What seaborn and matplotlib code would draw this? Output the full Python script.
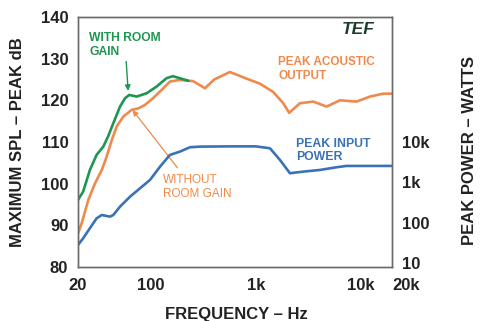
import numpy as np
import pandas as pd
import matplotlib
matplotlib.use("Agg")
import matplotlib.pyplot as plt
import seaborn as sns

# ---- data ----
with_freq = [20, 22.4, 26, 30.1, 34.9, 38.7, 43.5, 50.4, 56.3, 61.8, 72.6, 90.6, 112.6, 140, 161, 188, 227]
with_db = [96.1, 98.1, 103.3, 106.9, 108.9, 111.3, 114.5, 118.5, 120.5, 121.3, 120.9, 121.7, 123.3, 125.3, 125.8, 125.3, 124.7]

out_freq = [20, 21.7, 25.1, 29.1, 33.8, 37.6, 42.1, 46.8, 54.2, 65, 75.9, 87.3, 104, 126, 151, 188, 227,
            252, 327, 400, 566, 817, 1095, 1466, 1828, 2085, 2637, 3534, 4744, 6360, 9186, 12300, 16500, 20000]
out_db = [88.1, 90.5, 96.1, 100.1, 103.3, 106.5, 110.5, 113.7, 116.1, 117.7, 118.1, 118.9, 120.5, 122.5, 124.5, 124.9, 124.7,
          124.6, 122.9, 125.0, 126.8, 125.2, 124.0, 122.0, 119.3, 117.0, 119.3, 119.7, 118.5, 120.0, 119.7, 120.9, 121.6, 121.6]

pow_freq = [20, 22.4, 26, 30.1, 33.8, 40.4, 43.5, 50.4, 62.9, 78.3, 97.5, 121.6, 151, 188, 235, 293, 566, 1000,
            1364, 1700, 2118, 2838, 4096, 5912, 7370, 20000]
pow_watts = [28, 41, 73, 128, 155, 141, 155, 250, 442, 714, 1150, 2450, 4790, 5780, 7430, 7690, 7800, 7800,
             7010, 3600, 1683, 1845, 2030, 2370, 2555, 2555]

x_ticks = [20, 100, 1000, 10000, 20000]
x_tick_labels = ["20", "100", "1k", "10k", "20k"]
y_ticks = [80, 90, 100, 110, 120, 130, 140]
p_ticks = [10, 100, 1000, 10000]
p_tick_labels = ["10", "100", "1k", "10k"]

GREEN = "#1f9552"
ORANGE = "#ef8a4c"
BLUE = "#3b72b6"

sns.set_theme(style="white")
plt.rcParams["font.family"] = ["Liberation Sans", "DejaVu Sans"]

fig = plt.figure(figsize=(4.8, 3.21), dpi=100)
ax = fig.add_axes([78 / 480, 1 - 267 / 321, 314 / 480, 250 / 321])

line_kw = dict(lw=1.9, sort=False, solid_capstyle="round", solid_joinstyle="round")
df_out = pd.DataFrame({"f": out_freq, "db": out_db})
df_with = pd.DataFrame({"f": with_freq, "db": with_db})
sns.lineplot(data=df_out, x="f", y="db", ax=ax, color=ORANGE, **line_kw)
sns.lineplot(data=df_with, x="f", y="db", ax=ax, color=GREEN, **line_kw)

ax.set_xscale("log")
ax.set_xlim(20, 20000)
ax.set_ylim(80, 140)
ax.set_xticks(x_ticks)
ax.set_xticklabels(x_tick_labels)
ax.set_yticks(y_ticks)
ax.set_yticklabels([str(v) for v in y_ticks])
ax.xaxis.set_minor_locator(matplotlib.ticker.NullLocator())
ax.tick_params(axis="both", length=0, labelsize=12, colors="#222222")
ax.tick_params(axis="y", pad=7)
ax.tick_params(axis="x", pad=8)
for lab in ax.get_xticklabels() + ax.get_yticklabels():
    lab.set_fontweight("bold")
ax.get_xticklabels()[-1].set_horizontalalignment("left")
ax.set_xlabel("")
ax.set_ylabel("")
for s in ax.spines.values():
    s.set_color("#6a6a6a")
    s.set_linewidth(1.0)

ax2 = ax.twinx()
df_pow = pd.DataFrame({"f": pow_freq, "w": pow_watts})
sns.lineplot(data=df_pow, x="f", y="w", ax=ax2, color=BLUE, **line_kw)
ax2.set_yscale("log")
ax2.set_ylim(7.96, 1.26e7)
ax2.set_yticks(p_ticks)
ax2.set_yticklabels(p_tick_labels)
ax2.yaxis.set_minor_locator(matplotlib.ticker.NullLocator())
ax2.tick_params(axis="y", length=0, labelsize=12, colors="#222222", pad=7)
for lab in ax2.get_yticklabels():
    lab.set_fontweight("bold")
ax2.set_ylabel("")
ax2.set_xlabel("")
for s in ax2.spines.values():
    s.set_color("#6a6a6a")
    s.set_linewidth(1.0)

# axis titles
fig.text(18 / 480, 1 - 142 / 321, "MAXIMUM SPL – PEAK dB", rotation=90, ha="center", va="center",
         fontsize=12, fontweight="bold", color="#222222")
fig.text(470 / 480, 1 - 150 / 321, "PEAK POWER – WATTS", rotation=90, ha="center", va="center",
         fontsize=12, fontweight="bold", color="#222222")
fig.text(236 / 480, 1 - 314 / 321, "FREQUENCY – Hz", ha="center", va="center",
         fontsize=12, fontweight="bold", color="#222222")

# annotations
ax.text(0.946, 0.982, "TEF", transform=ax.transAxes, ha="right", va="top", fontsize=12.5,
        fontweight="bold", style="italic", color="#1d3b2c")
ax.text(25.6, 136.4, "WITH ROOM\nGAIN", ha="left", va="top", fontsize=8.7, color=GREEN,
        fontweight="bold", linespacing=1.25)
ax.annotate("", xy=(60.5, 121.6), xytext=(57.5, 130.0),
            arrowprops=dict(arrowstyle="-|>", color=GREEN, lw=1.0, mutation_scale=8))
ax.text(129, 102.2, "WITHOUT\nROOM GAIN", ha="left", va="top", fontsize=8.5, color=ORANGE,
        linespacing=1.2)
ax.annotate("", xy=(64, 118.2), xytext=(185, 103.3),
            arrowprops=dict(arrowstyle="-|>", color=ORANGE, lw=0.9, mutation_scale=8))
ax.text(1640, 130.6, "PEAK ACOUSTIC\nOUTPUT", ha="left", va="top", fontsize=8.5, color=ORANGE,
        fontweight="bold", linespacing=1.15)
ax.text(2420, 111.0, "PEAK INPUT\nPOWER", ha="left", va="top", fontsize=8.8, color=BLUE,
        fontweight="bold", linespacing=1.15)

fig.savefig("out.png", dpi=100)
